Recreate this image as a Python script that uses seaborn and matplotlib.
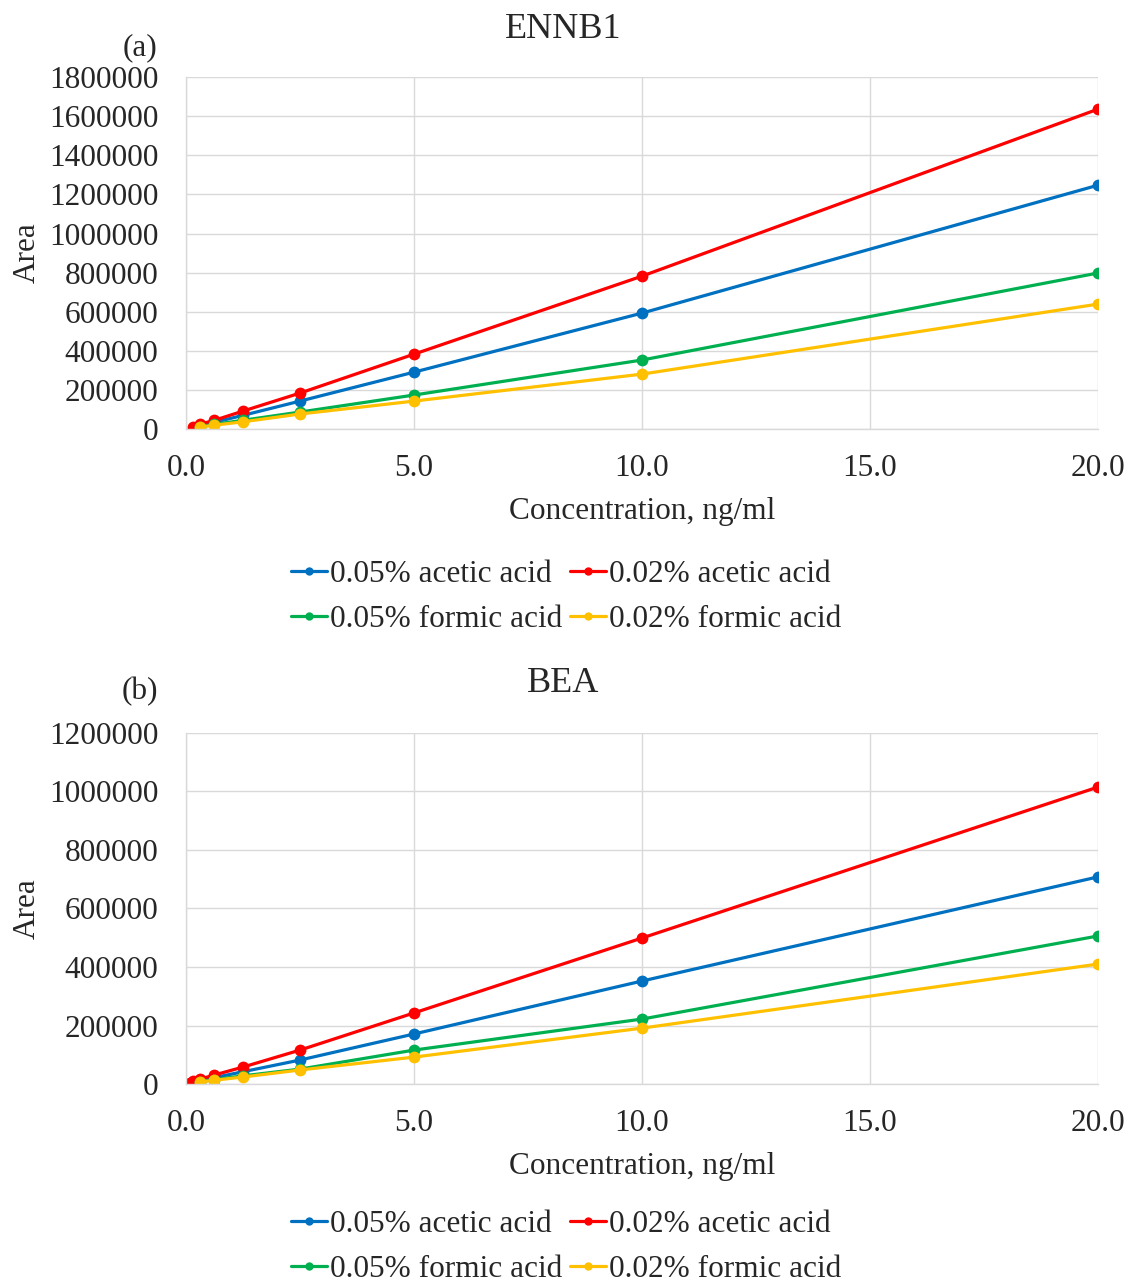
import matplotlib
matplotlib.use("Agg")
import matplotlib.pyplot as plt
import seaborn as sns
import pandas as pd
from matplotlib.lines import Line2D

sns.set_style("white")
plt.rcParams['font.family'] = ['Liberation Serif', 'DejaVu Serif']

series_names = ["0.05% acetic acid", "0.02% acetic acid",
                "0.05% formic acid", "0.02% formic acid"]
series_colors = ["#0070C0", "#FF0000", "#00B050", "#FFC000"]

# ENNB1 calibration data
ennb1_conc_02_acetic = [0.156, 0.3125, 0.625, 1.25, 2.5, 5, 10, 20]
ennb1_conc_other = [0.3125, 0.625, 1.25, 2.5, 5, 10, 20]
ennb1_05_acetic = [18000, 35000, 70000, 143000, 291000, 593000, 1247000]
ennb1_02_acetic = [12000, 25000, 45000, 92000, 184000, 383000, 782000, 1636000]
ennb1_05_formic = [12000, 24000, 45000, 87000, 174000, 353000, 798000]
ennb1_02_formic = [10000, 20000, 37000, 77000, 143000, 281000, 639000]

# BEA calibration data
bea_conc_02_acetic = [0.078, 0.156, 0.3125, 0.625, 1.25, 2.5, 5, 10, 20]
bea_conc_other = [0.3125, 0.625, 1.25, 2.5, 5, 10, 20]
bea_05_acetic = [12000, 22000, 42000, 82000, 171000, 352000, 708000]
bea_02_acetic = [5000, 10000, 17000, 31000, 58000, 116000, 243000, 499000, 1015000]
bea_05_formic = [8000, 15000, 28000, 51000, 116000, 222000, 506000]
bea_02_formic = [7000, 13000, 24000, 48000, 92000, 191000, 410000]

x_ticks = [0, 5, 10, 15, 20]
x_tick_labels = ["0.0", "5.0", "10.0", "15.0", "20.0"]


def build_frame(conc_a, conc_o, s05a, s02a, s05f, s02f):
    parts = [
        pd.DataFrame({"conc": conc_o, "area": s05a, "series": series_names[0]}),
        pd.DataFrame({"conc": conc_a, "area": s02a, "series": series_names[1]}),
        pd.DataFrame({"conc": conc_o, "area": s05f, "series": series_names[2]}),
        pd.DataFrame({"conc": conc_o, "area": s02f, "series": series_names[3]}),
    ]
    return pd.concat(parts, ignore_index=True)


df_ennb1 = build_frame(ennb1_conc_02_acetic, ennb1_conc_other, ennb1_05_acetic,
                       ennb1_02_acetic, ennb1_05_formic, ennb1_02_formic)
df_bea = build_frame(bea_conc_02_acetic, bea_conc_other, bea_05_acetic,
                     bea_02_acetic, bea_05_formic, bea_02_formic)

fig = plt.figure(figsize=(11.3, 12.85), dpi=100)
ax_top = fig.add_axes([0.1646, 0.6661, 0.807, 0.2739])
ax_bot = fig.add_axes([0.1646, 0.1564, 0.807, 0.2732])

FS = 22.5
palette = dict(zip(series_names, series_colors))


def draw_panel(ax, df, ymax, ystep, title, tag, title_y, tag_y, legend_y):
    sns.lineplot(data=df, x="conc", y="area", hue="series", palette=palette,
                 hue_order=series_names, marker="o", markersize=8.5,
                 markeredgewidth=0, linewidth=2.3, ax=ax, legend=False,
                 sort=False)
    ax.set_xlim(0, 20)
    ax.set_ylim(0, ymax)
    ax.set_xticks(x_ticks)
    ax.set_xticklabels(x_tick_labels, fontsize=FS)
    yt = list(range(0, ymax + 1, ystep))
    ax.set_yticks(yt)
    ax.set_yticklabels([str(v) for v in yt], fontsize=FS)
    ax.tick_params(axis="x", length=0, pad=18)
    ax.tick_params(axis="y", length=0, pad=20)
    ax.grid(True, color="#D9D9D9", linewidth=1)
    ax.set_axisbelow(True)
    for side in ["top", "right"]:
        ax.spines[side].set_visible(False)
    for side in ["left", "bottom"]:
        ax.spines[side].set_color("#D9D9D9")
        ax.spines[side].set_linewidth(1)
    ax.set_xlabel("Concentration, ng/ml", fontsize=FS, labelpad=10)
    ax.set_ylabel("Area", fontsize=FS)
    ax.yaxis.set_label_coords(-0.158, 0.5)
    fig.text(0.498, title_y, title, fontsize=26, ha="center", va="center")
    fig.text(0.124, tag_y, tag, fontsize=FS, ha="center", va="center")

    handles = [Line2D([0], [0], color=c, marker="o", markersize=6,
                      markeredgewidth=0, linewidth=2.3) for c in series_colors]
    order = [0, 2, 1, 3]
    fig.legend([handles[i] for i in order], [series_names[i] for i in order],
               loc="center", bbox_to_anchor=(0.501, legend_y), ncol=2,
               frameon=False, fontsize=FS, handlelength=1.15, handletextpad=0.1,
               columnspacing=0.25, labelspacing=0.5, borderpad=0)


draw_panel(ax_top, df_ennb1, 1800000, 200000, "ENNB1", "(a)",
           1 - 29 / 1285, 1 - 48 / 1285, 1 - 597 / 1285)
draw_panel(ax_bot, df_bea, 1200000, 200000, "BEA", "(b)",
           1 - 684 / 1285, 1 - 692 / 1285, 1 - 1247 / 1285)

fig.savefig("out.png", dpi=100, facecolor="white")
